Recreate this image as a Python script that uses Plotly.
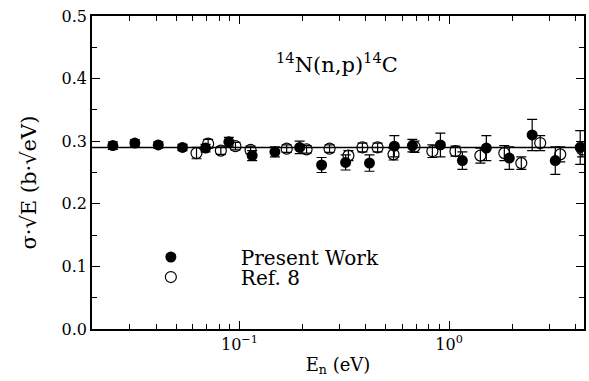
import plotly.graph_objects as go
import math

# Present Work
pw_E = [0.0249, 0.0317, 0.041, 0.0535, 0.0689, 0.089, 0.115, 0.1476, 0.1937, 0.2465,
        0.321, 0.417, 0.548, 0.668, 0.909, 1.157, 1.505, 1.937, 2.49, 3.21, 4.22]
pw_val = [0.293, 0.297, 0.294, 0.290, 0.289, 0.299, 0.277, 0.283, 0.290, 0.262,
          0.266, 0.265, 0.292, 0.293, 0.294, 0.269, 0.289, 0.273, 0.310, 0.269, 0.290]
pw_err = [0.006, 0.005, 0.005, 0.005, 0.006, 0.007, 0.008, 0.008, 0.010, 0.012,
          0.012, 0.013, 0.017, 0.010, 0.019, 0.014, 0.020, 0.018, 0.025, 0.022, 0.027]

# Ref. 8
r8_E = [0.0624, 0.0709, 0.0815, 0.0957, 0.113, 0.168, 0.209, 0.269, 0.331, 0.386,
        0.456, 0.543, 0.684, 0.832, 1.072, 1.41, 1.834, 2.21, 2.72, 3.39, 4.31]
r8_val = [0.281, 0.296, 0.285, 0.292, 0.286, 0.288, 0.287, 0.288, 0.277, 0.290,
          0.290, 0.279, 0.291, 0.284, 0.284, 0.277, 0.281, 0.265, 0.297, 0.279, 0.287]
r8_err = [0.009, 0.007, 0.006, 0.006, 0.006, 0.006, 0.006, 0.006, 0.008, 0.007,
          0.007, 0.009, 0.009, 0.010, 0.008, 0.012, 0.012, 0.010, 0.012, 0.012, 0.012]

FIT = 0.290
X_MIN, X_MAX = 0.0198, 4.4

x_ticks = [0.1, 1]
x_ticktext = ["10<sup>\u22121</sup>", "10<sup>0</sup>"]
x_minor = [0.02, 0.03, 0.04, 0.05, 0.06, 0.07, 0.08, 0.09,
           0.2, 0.3, 0.4, 0.5, 0.6, 0.7, 0.8, 0.9, 2, 3, 4]

FONT = "DejaVu Serif"

fig = go.Figure()

fig.add_trace(go.Scatter(
    x=[X_MIN, X_MAX], y=[FIT, FIT], mode="lines",
    line=dict(color="black", width=1.5), showlegend=False, hoverinfo="skip"))

fig.add_trace(go.Scatter(
    x=pw_E, y=pw_val, mode="markers", name="Present Work", legend="legend",
    marker=dict(symbol="circle", size=11, color="black"),
    error_y=dict(type="data", array=pw_err, color="black", thickness=1.2, width=5)))

fig.add_trace(go.Scatter(
    x=r8_E, y=r8_val, mode="markers", name="Ref. 8", legend="legend2",
    marker=dict(symbol="circle-open", size=11, color="black", line=dict(width=1.2)),
    error_y=dict(type="data", array=r8_err, color="black", thickness=1.2, width=5)))

fig.add_annotation(
    x=0.498, y=0.90, xref="paper", yref="paper",
    text="<sup>14</sup>N(n,p)<sup>14</sup>C", showarrow=False,
    font=dict(family=FONT, size=21, color="black"))

fig.add_annotation(
    x=-0.130, y=0.468, xref="paper", yref="paper", textangle=-90,
    xanchor="center", yanchor="middle",
    text="\u03c3\u00b7\u221aE (b\u00b7\u221aeV)", showarrow=False,
    font=dict(family=FONT, size=21, color="black"))

leg_common = dict(xanchor="left", yanchor="middle", bgcolor="rgba(0,0,0,0)",
                  font=dict(family=FONT, size=20, color="black"), itemwidth=130)

fig.update_layout(
    width=589, height=381,
    margin=dict(l=92, r=5, t=16, b=52),
    paper_bgcolor="white", plot_bgcolor="white",
    font=dict(family=FONT, size=16, color="black"),
    legend=dict(x=0.018, y=0.230, **leg_common),
    legend2=dict(x=0.018, y=0.166, **leg_common),
    xaxis=dict(
        type="log", range=[math.log10(X_MIN), math.log10(X_MAX)], automargin=False,
        tickvals=x_ticks, ticktext=x_ticktext,
        ticks="inside", ticklen=8, tickwidth=1, tickcolor="black",
        minor=dict(tickvals=x_minor, ticks="inside", ticklen=5, tickcolor="black", tickwidth=1),
        showline=True, linecolor="black", linewidth=1.5, mirror="ticks",
        showgrid=False, zeroline=False,
        title=dict(text="E<sub>n</sub> (eV)", font=dict(family=FONT, size=18, color="black"), standoff=5)),
    yaxis=dict(
        range=[0, 0.5], tickvals=[0, 0.1, 0.2, 0.3, 0.4, 0.5], tickformat=".1f",
        automargin=False,
        ticks="inside", ticklen=8, tickwidth=1, tickcolor="black",
        minor=dict(dtick=0.05, ticks="inside", ticklen=5, tickcolor="black", tickwidth=1),
        showline=True, linecolor="black", linewidth=1.5, mirror="ticks",
        showgrid=False, zeroline=False),
)

fig.write_html("out.html", config={"displayModeBar": False},
               post_script="document.body.style.margin='0';document.body.style.overflow='hidden';")
